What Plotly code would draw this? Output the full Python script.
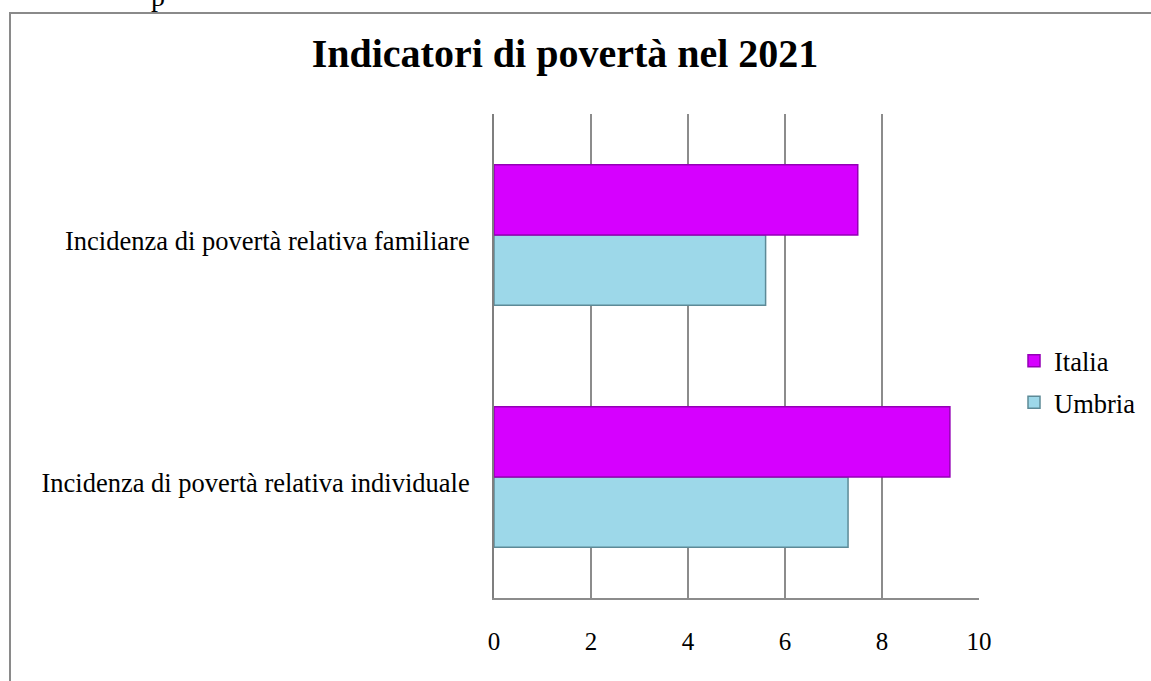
import plotly.graph_objects as go

categories = ["Incidenza di povertà relativa individuale", "Incidenza di povertà relativa familiare"]
italia = [9.4, 7.5]
umbria = [7.3, 5.6]
x_ticks = [0, 2, 4, 6, 8, 10]

FONT = "Liberation Serif, Times New Roman, serif"
W, H = 1151, 681
L, R, T, B = 494, 172, 114, 83
PW, PH = W - L - R, H - T - B

def px(x):
    return (x - L) / PW

def py(y):
    return (H - B - y) / PH

fig = go.Figure()
fig.add_trace(go.Bar(
    y=categories, x=umbria, name="Umbria", orientation="h",
    marker=dict(color="#9dd8e9", line=dict(color="#5d8a97", width=1.5)),
    legendgroup="u", legendrank=2,
))
fig.add_trace(go.Bar(
    y=categories, x=italia, name="Italia", orientation="h",
    marker=dict(color="#d600ff", line=dict(color="#9400b5", width=1.5)),
    legendgroup="i", legendrank=1,
))

fig.update_layout(
    width=W, height=H,
    margin=dict(l=L, r=R, t=T, b=B, autoexpand=False),
    paper_bgcolor="white", plot_bgcolor="white",
    barmode="group", bargap=0.42, bargroupgap=0,
    font=dict(family=FONT, size=26, color="black"),
    title=dict(text="<b>Indicatori di povertà nel 2021</b>", x=565 / W, xanchor="center",
               xref="container", y=1 - 53 / H, yanchor="middle", yref="container",
               font=dict(family=FONT, size=40, color="black")),
    xaxis=dict(range=[0, 10], tickvals=x_ticks, showgrid=True, gridcolor="#8c8c8c", gridwidth=1.5,
               showline=True, linecolor="#8c8c8c", linewidth=1.5, zeroline=False, ticks="",
               ticklabelstandoff=20, tickfont=dict(family=FONT, size=25)),
    yaxis=dict(showline=True, linecolor="#7f7f7f", linewidth=2, ticks="", showgrid=False,
               ticklabelstandoff=17, ticklabelshift=6, tickfont=dict(family=FONT, size=26.5)),
    legend=dict(x=px(1014), xanchor="left", y=py(337), yanchor="top",
                traceorder="grouped", tracegroupgap=4,
                font=dict(family=FONT, size=26.5), itemwidth=30, bgcolor="rgba(0,0,0,0)"),
    shapes=[
        dict(type="rect", xref="paper", yref="paper", x0=px(10), x1=px(1400), y0=py(13), y1=py(800),
             line=dict(color="#8a8a8a", width=2), fillcolor="rgba(0,0,0,0)", layer="below"),
    ],
    annotations=[
        dict(text="p", xref="paper", yref="paper", x=px(158), y=py(14), xanchor="center", yanchor="bottom",
             showarrow=False, font=dict(family=FONT, size=28, color="black")),
    ],
)

fig.write_html("out.html", config={"displayModeBar": False},
               post_script="document.body.style.margin='0';document.body.style.overflow='hidden';")
